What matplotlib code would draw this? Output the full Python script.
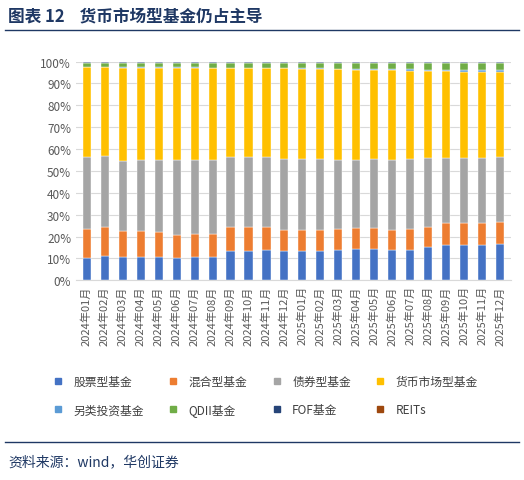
import matplotlib
matplotlib.use("Agg")
import matplotlib.pyplot as plt
import numpy as np
from matplotlib.lines import Line2D

plt.rcParams['font.family'] = ['Noto Sans CJK SC', 'DejaVu Sans']

months = [f"{y}年{m:02d}月" for y in (2024, 2025) for m in range(1, 13)]
stock = [10.2,11.3,10.8,10.8,10.8,10.0,10.7,10.8,13.5,13.6,14.0,13.6,13.6,13.6,14.0,14.3,14.3,14.0,14.0,15.4,16.3,16.3,16.0,16.7]
cum_mixed = [23.6,24.5,22.5,22.5,22.3,20.8,21.3,21.3,24.2,24.2,24.5,23.2,23.2,23.2,23.7,24.1,24.1,23.1,23.4,24.4,26.4,26.4,26.4,26.8]
cum_bond = [56.5,57.0,54.5,54.8,55.0,54.8,55.2,55.2,56.3,56.3,56.5,55.5,55.5,55.5,55.2,55.2,55.5,55.0,55.3,56.0,55.8,55.8,55.8,56.3]
cum_money = [97.5,97.3,97.2,97.2,97.2,97.2,97.2,97.0,97.0,97.0,97.0,96.9,96.8,96.6,96.4,96.3,96.3,96.0,95.9,95.8,95.6,95.3,95.3,95.2]
alt = [0.2,0.2,0.2,0.2,0.2,0.2,0.2,0.2,0.2,0.2,0.2,0.3,0.3,0.4,0.4,0.4,0.4,0.5,0.5,0.5,0.6,0.7,0.7,0.8]
fof = [0.4]*24
reits = [0.4]*24

mixed = np.array(cum_mixed) - np.array(stock)
bond = np.array(cum_bond) - np.array(cum_mixed)
money = np.array(cum_money) - np.array(cum_bond)
qdii = 100 - np.array(cum_money) - np.array(alt) - np.array(fof) - np.array(reits)

series = [("股票型基金", stock, "#4472C4"), ("混合型基金", mixed, "#ED7D31"),
          ("债券型基金", bond, "#A5A5A5"), ("货币市场型基金", money, "#FFC000"),
          ("另类投资基金", alt, "#5B9BD5"), ("QDII基金", qdii, "#70AD47"),
          ("FOF基金", fof, "#264478"), ("REITs", reits, "#9E480E")]

fig = plt.figure(figsize=(5.24, 4.81), dpi=100)
ax = fig.add_axes([0.145, 0.415, 0.83, 0.455])
x = np.arange(24)
bottom = np.zeros(24)
for name, vals, c in series:
    vals = np.array(vals, dtype=float)
    ax.bar(x, vals, 0.45, bottom=bottom, color=c, edgecolor='white', linewidth=0.3, zorder=3)
    bottom += vals
ax.set_ylim(0, 100)
ax.set_xlim(-0.6, 23.6)
ax.set_yticks(range(0, 101, 10))
ax.set_yticklabels([f"{v}%" for v in range(0, 101, 10)], fontsize=8.5, color='#595959')
ax.set_xticks(x)
ax.set_xticklabels(months, rotation=90, fontsize=8, color='#595959')
ax.grid(axis='y', color='#D9D9D9', linewidth=0.8, zorder=0)
for s in ['top', 'right', 'left']:
    ax.spines[s].set_visible(False)
ax.spines['bottom'].set_color('#D9D9D9')
ax.tick_params(length=0)

handles = [Line2D([], [], marker='s', linestyle='', color=c, markersize=5) for _, _, c in series]
labels = [s[0] for s in series]
order = [0, 4, 1, 5, 2, 6, 3, 7]
fig.legend([handles[i] for i in order], [labels[i] for i in order], ncol=4, loc='center',
           bbox_to_anchor=(0.5, 0.175), frameon=False, fontsize=8.5, handletextpad=0.3,
           columnspacing=1.5, labelspacing=1.3, labelcolor='#404040')

fig.text(0.015, 0.965, "图表 12    货币市场型基金仍占主导", fontsize=12, fontweight='bold',
         color='#1F3864', va='center')
fig.add_artist(Line2D([0.01, 0.99], [0.935, 0.935], color='#1F3864', linewidth=1))
fig.add_artist(Line2D([0.01, 0.99], [0.078, 0.078], color='#1F3864', linewidth=1))
fig.text(0.015, 0.04, "资料来源：wind，华创证券", fontsize=10, style='italic', color='#1F3864', va='center')

fig.savefig("out.png", dpi=100)
